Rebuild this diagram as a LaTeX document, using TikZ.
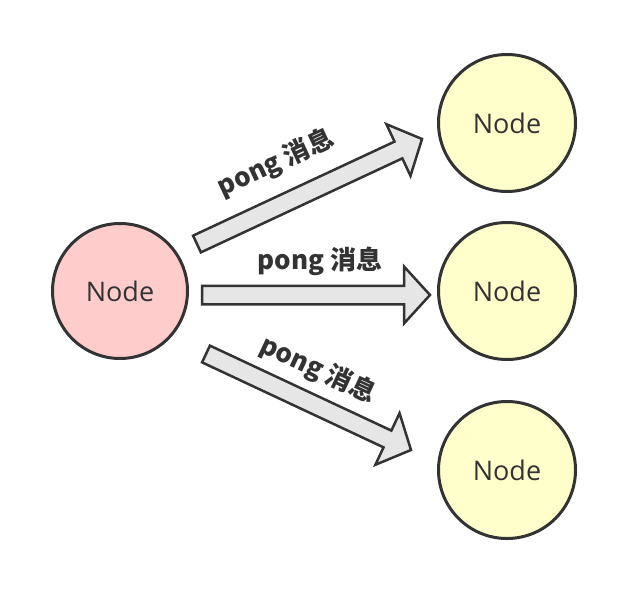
\documentclass[tikz,border=0pt]{standalone}
\usepackage{fontspec}
\usepackage{tikz}
\usepackage{xcolor}
\usetikzlibrary{calc}
\newfontfamily\nodefont{Open Sans}
\newfontfamily\msgfont{Noto Sans CJK SC}
\definecolor{edge-gray}{HTML}{333333}
\definecolor{sender-red}{HTML}{FFCCCC}
\definecolor{peer-yellow}{HTML}{FFFFCC}
\definecolor{arrow-gray}{HTML}{E6E6E6}
\tikzset{
    sender-node/.style = {draw=edge-gray, fill=sender-red, circle, line width=3pt, minimum size=135pt, inner sep=0pt, text=edge-gray, font=\nodefont\fontsize{27}{27}\selectfont},
    peer-node/.style = {sender-node, fill=peer-yellow, minimum size=137pt},
    msg-arrow/.style = {draw=edge-gray, fill=arrow-gray, line width=2.5pt, line join=miter, to path={
        ($(\tikztostart)!9.25pt!90:(\tikztotarget)$)
        -- ($(\tikztotarget)!26pt!(\tikztostart)!9.25pt!90:(\tikztotarget)$)
        -- ($(\tikztotarget)!26pt!(\tikztostart)!28.5pt!90:(\tikztotarget)$)
        -- (\tikztotarget)
        -- ($(\tikztotarget)!26pt!(\tikztostart)!28.5pt!-90:(\tikztotarget)$)
        -- ($(\tikztotarget)!26pt!(\tikztostart)!9.25pt!-90:(\tikztotarget)$)
        -- ($(\tikztostart)!9.25pt!-90:(\tikztotarget)$) -- cycle}},
    msg-label/.style = {text=edge-gray, font=\msgfont\bfseries\fontsize{26}{26}\selectfont, inner sep=0pt},
}
\begin{document}
\begin{tikzpicture}[x=1pt, y=-1pt]
\useasboundingbox (0,0) rectangle (628,588);
\node[sender-node] (sender) at (120,291) {Node};
\node[peer-node] (peer-a) at (507,123) {Node};
\node[peer-node] (peer-b) at (507,291) {Node};
\node[peer-node] (peer-c) at (507,470) {Node};
\coordinate (out-a) at (197,244);
\coordinate (in-a) at (422,139);
\coordinate (out-b) at (202,295);
\coordinate (in-b) at (430,295);
\coordinate (out-c) at (206,354);
\coordinate (in-c) at (411,450);
\path[msg-arrow] (out-a) to (in-a);
\path[msg-arrow] (out-b) to (in-b);
\path[msg-arrow] (out-c) to (in-c);
\node[msg-label, rotate=25] (pong-a) at (276,163) {pong 消息};
\node[msg-label] (pong-b) at (320,261) {pong 消息};
\node[msg-label, rotate=-25] (pong-c) at (318,370) {pong 消息};
\end{tikzpicture}
\end{document}
